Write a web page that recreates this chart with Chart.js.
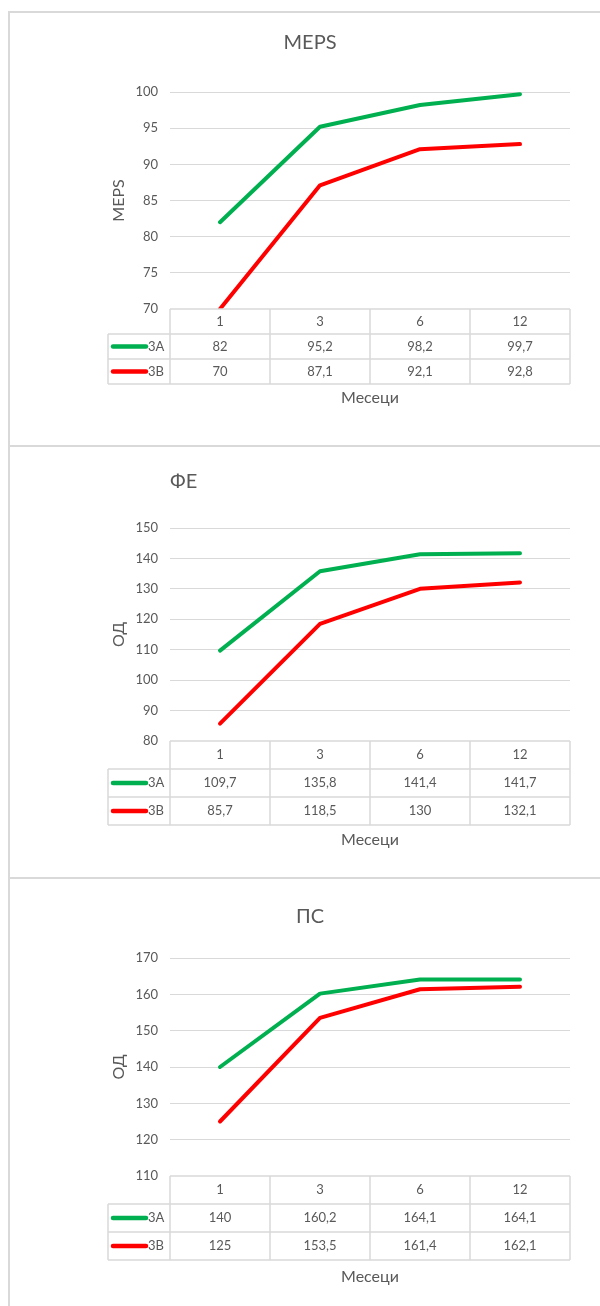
<!DOCTYPE html>
<html>
<head>
<meta charset="utf-8">
<script src="https://cdn.jsdelivr.net/npm/chart.js@4/dist/chart.umd.min.js"></script>
<style>
  html, body { margin: 0; padding: 0; background: #fff; }
  body { position: relative; width: 600px; height: 1306px; overflow: hidden; }
  .panel { position: absolute; left: 8px; width: 640px; border: 2px solid #d9d9d9; box-sizing: border-box; }
  canvas { position: absolute; left: 0; }
</style>
</head>
<body>
<div class="panel" style="top:11px;height:436px"></div>
<div class="panel" style="top:445px;height:434px"></div>
<div class="panel" style="top:877px;height:460px"></div>
<canvas id="meps" width="600" height="434" style="top:12px"></canvas>
<canvas id="fe" width="600" height="430" style="top:447px"></canvas>
<canvas id="ps" width="600" height="427" style="top:879px"></canvas>
<script>
// Follow-up months
const months = ['1', '3', '6', '12'];
const seriesNames = ['3A', '3B'];
const seriesColors = ['#00b050', '#ff0000'];

// MEPS score
const mepsA = [82, 95.2, 98.2, 99.7];
const mepsB = [70, 87.1, 92.1, 92.8];
const mepsTicks = { min: 70, max: 100, step: 5 };

// ФЕ
const feA = [109.7, 135.8, 141.4, 141.7];
const feB = [85.7, 118.5, 130, 132.1];
const feTicks = { min: 80, max: 150, step: 10 };

// ПС
const psA = [140, 160.2, 164.1, 164.1];
const psB = [125, 153.5, 161.4, 162.1];
const psTicks = { min: 110, max: 170, step: 10 };

const TEXT = '#595959';
const GRID = '#d9d9d9';
Chart.defaults.font.family = 'Lato, "Open Sans", sans-serif';
Chart.defaults.color = TEXT;

const fmt = v => String(v).replace('.', ',');

// Data table drawn under the plot, columns aligned to the category scale
const dataTable = {
  id: 'dataTable',
  afterDatasetsDraw(chart, args, opts) {
    const { ctx, chartArea, scales: { x } } = chart;
    const labels = chart.data.labels;
    const sets = chart.data.datasets;
    const n = labels.length;
    const step = x.getPixelForValue(1) - x.getPixelForValue(0);
    const left = chartArea.left, right = chartArea.right, top = chartArea.bottom;
    const rh = opts.rowHeight;
    const legLeft = left - opts.legendWidth;
    const bottom = top + rh * (sets.length + 1);

    ctx.save();
    ctx.fillStyle = '#fff';
    ctx.fillRect(left, top, right - left, rh);
    ctx.fillRect(legLeft, top + rh, right - legLeft, rh * sets.length);

    ctx.strokeStyle = GRID;
    ctx.lineWidth = 1.5;
    ctx.beginPath();
    ctx.moveTo(left, top); ctx.lineTo(right, top);
    for (let r = 1; r <= sets.length + 1; r++) {
      ctx.moveTo(legLeft, top + r * rh); ctx.lineTo(right, top + r * rh);
    }
    for (let i = 0; i <= n; i++) {
      const bx = i < n ? x.getPixelForValue(i) - step / 2 : x.getPixelForValue(n - 1) + step / 2;
      ctx.moveTo(bx, top); ctx.lineTo(bx, bottom);
    }
    ctx.moveTo(legLeft, top + rh); ctx.lineTo(legLeft, bottom);
    ctx.stroke();

    ctx.font = '13px ' + Chart.defaults.font.family;
    ctx.fillStyle = TEXT;
    ctx.textAlign = 'center';
    ctx.textBaseline = 'middle';
    labels.forEach((lab, i) => ctx.fillText(lab, x.getPixelForValue(i), top + rh / 2));
    sets.forEach((ds, r) => {
      const cy = top + rh * (r + 1.5);
      ds.data.forEach((v, i) => ctx.fillText(fmt(v), x.getPixelForValue(i), cy));
      ctx.strokeStyle = ds.borderColor;
      ctx.lineWidth = 4.5;
      ctx.lineCap = 'round';
      ctx.beginPath();
      ctx.moveTo(legLeft + 5, cy); ctx.lineTo(legLeft + 38, cy);
      ctx.stroke();
      ctx.textAlign = 'left';
      ctx.fillText(ds.label, legLeft + 40, cy);
      ctx.textAlign = 'center';
    });
    ctx.restore();
  }
};

function makeChart(id, cfg) {
  const canvas = document.getElementById(id);
  const H = canvas.height;
  const titleLH = 24, axisLH = 19.2;
  const xTitlePad = cfg.xTitleY - cfg.chartBottom - axisLH / 2;
  new Chart(canvas, {
    type: 'line',
    data: {
      labels: months,
      datasets: cfg.series.map((d, i) => ({
        label: seriesNames[i],
        data: d,
        borderColor: seriesColors[i],
        backgroundColor: seriesColors[i],
        borderWidth: 4,
        borderCapStyle: 'round',
        borderJoinStyle: 'round',
        pointRadius: 0,
        tension: 0
      }))
    },
    options: {
      responsive: false,
      animation: false,
      layout: { padding: { left: 50, right: 30, top: 0, bottom: H - cfg.chartBottom - xTitlePad - axisLH } },
      plugins: {
        legend: { display: false },
        tooltip: { enabled: false },
        title: {
          display: true,
          text: cfg.title,
          align: cfg.titleStart ? 'start' : 'center',
          fullSize: !cfg.titleStart,
          color: TEXT,
          font: { size: 20, weight: 'normal', lineHeight: 1.2 },
          padding: { top: cfg.titleY - titleLH / 2, bottom: cfg.chartTop - cfg.titleY - titleLH / 2 }
        },
        dataTable: { rowHeight: cfg.rowHeight, legendWidth: 62 }
      },
      scales: {
        x: {
          type: 'category',
          offset: true,
          grid: { display: false, drawTicks: false },
          border: { display: false },
          ticks: { display: false },
          title: {
            display: true, text: 'Месеци', color: TEXT,
            font: { size: 16, lineHeight: 1.2 },
            padding: { top: xTitlePad, bottom: 0 }
          }
        },
        y: {
          min: cfg.ticks.min,
          max: cfg.ticks.max,
          afterFit(scale) { scale.width = 120; },
          ticks: { stepSize: cfg.ticks.step, padding: 12, color: TEXT, font: { size: 13 } },
          grid: { color: GRID, lineWidth: 1, drawTicks: false },
          border: { display: false },
          title: {
            display: true, text: cfg.yTitle, color: TEXT,
            font: { size: 16, lineHeight: 1.2 },
            padding: { top: 59.4, bottom: 0 }
          }
        }
      }
    },
    plugins: [dataTable]
  });
}

makeChart('meps', {
  title: 'MEPS', yTitle: 'MEPS', series: [mepsA, mepsB], ticks: mepsTicks,
  titleY: 31, chartTop: 80, chartBottom: 297, rowHeight: 25, xTitleY: 386
});
makeChart('fe', {
  title: 'ФЕ', titleStart: true, yTitle: 'ОД', series: [feA, feB], ticks: feTicks,
  titleY: 35, chartTop: 81, chartBottom: 294, rowHeight: 28, xTitleY: 393
});
makeChart('ps', {
  title: 'ПС', yTitle: 'ОД', series: [psA, psB], ticks: psTicks,
  titleY: 38, chartTop: 79, chartBottom: 297, rowHeight: 28, xTitleY: 398
});
</script>
</body>
</html>
